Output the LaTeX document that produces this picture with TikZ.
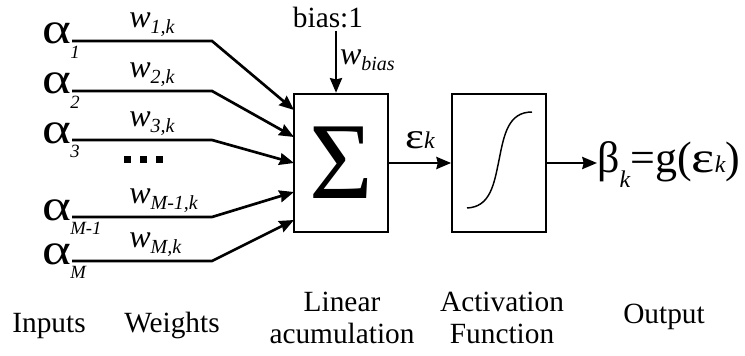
\documentclass[tikz,border=0pt]{standalone}
\usepackage{fontspec}
\setmainfont{Liberation Serif}
\newfontfamily\widegreek[FakeStretch=1.25]{Liberation Serif}
\usetikzlibrary{arrows.meta}

\newcommand{\insym}[1]{{\widegreek α}\rlap{\smash{\raisebox{-11pt}{\fontsize{14}{14}\selectfont\itshape\kern-1pt #1}}}}
\newcommand{\wgt}[1]{\textit{w}\raisebox{-4.5pt}{\fontsize{15}{15}\selectfont\itshape #1}}

\tikzset{
    wire/.style={line width=2pt, -{Stealth[length=11pt, width=9pt, inset=1pt]}},
    blockbox/.style={draw, line width=1.3pt, minimum width=70.5pt, minimum height=104pt, inner sep=0pt},
    lab/.style={font=\fontsize{22}{23.5}\selectfont, align=center, inner sep=2pt},
    inp/.style={font=\fontsize{33}{33}\selectfont, inner sep=0pt, anchor=base east},
    wlab/.style={font=\fontsize{24}{24}\selectfont, inner sep=0pt, anchor=base west},
}

\begin{document}
\begin{tikzpicture}[x=0.75pt, y=-0.75pt]
    \useasboundingbox (0,0) rectangle (745,356);

    % summing and activation blocks
    \node[blockbox, font=\fontsize{82}{82}\selectfont] (sum) at (341,163) {Σ};
    \node[blockbox] (act) at (499,163) {};
    \draw[line width=1.1pt] (467,208) .. controls (490,207) and (494,185) .. (499,160)
        .. controls (504,135) and (508,112) .. (532,112);

    % inputs with their weights
    \foreach \i/\y/\t/\s/\w in {1/41/110/1/{1,k}, 2/91/137/2/{2,k}, 3/140/163/3/{3,k},
                                4/217/192/{M-1}/{M-1,k}, 5/261/220/M/{M,k}} {
        \node[inp] (a\i) at (72,\y+3) {\insym{\s}};
        \coordinate (b\i) at (212,\y);
        \coordinate (t\i) at (294,\t);
        \draw[wire] (a\i.base east |- b\i) -- node[wlab, pos=0.4, yshift=10pt] {\wgt{\w}} (b\i) -- (t\i);
    }
    \foreach \x in {127,143,159}
        \fill (\x-3.5,155.5) rectangle ++(7,7);

    % bias
    \node[lab] (bias) at (328,18) {bias:1};
    \draw[wire] ([xshift=6pt]bias.south) -- node[wlab, anchor=west, xshift=2pt, yshift=1pt] {\wgt{bias}}
        ([xshift=6pt]bias.south |- sum.north);

    % output
    \draw[wire] (sum) -- node[anchor=base, yshift=11pt, inner sep=0pt]
        {\fontsize{27}{27}\selectfont{\widegreek ε}\fontsize{18}{18}\selectfont\itshape k} (act);
    \node[font=\fontsize{33}{33}\selectfont, inner sep=0pt, anchor=west] (out) at (597,162)
        {β\smash{\raisebox{-11pt}{\fontsize{18}{18}\selectfont\itshape k}}=g({\widegreek ε}{\fontsize{18}{18}\selectfont\itshape k})};
    \draw[wire] (act.east) -- (act.east -| out.west);

    % captions
    \node[lab, anchor=base] (cin) at (49,332) {Inputs};
    \node[lab, anchor=base] (cw) at (172,332) {Weights};
    \node[lab] (csum) at (342,318) {Linear\\acumulation};
    \node[lab] (cact) at (502,318) {Activation\\Function};
    \node[lab, anchor=base] (cout) at (664,323) {Output};
\end{tikzpicture}
\end{document}
